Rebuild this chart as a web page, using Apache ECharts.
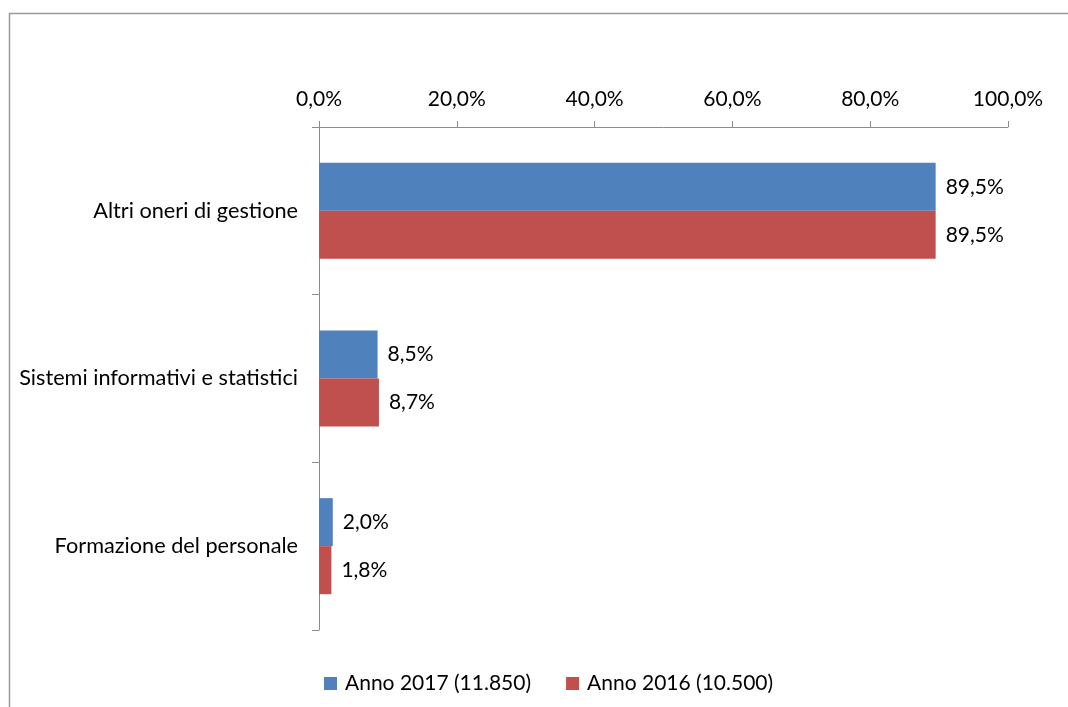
<!DOCTYPE html>
<html>
<head>
<meta charset="utf-8">
<script src="https://cdn.jsdelivr.net/npm/echarts@6/dist/echarts.min.js"></script>
<style>
  html, body { margin: 0; padding: 0; background: #fff; }
  #chart { width: 1068px; height: 707px; }
</style>
</head>
<body>
<div id="chart"></div>
<script>
// Categories, top to bottom
const categories = ['Altri oneri di gestione', 'Sistemi informativi e statistici', 'Formazione del personale'];
// Share of total (%) per year
const values2017 = [89.5, 8.5, 2.0];
const values2016 = [89.5, 8.7, 1.8];
const seriesNames = ['Anno 2017 (11.850)', 'Anno 2016 (10.500)'];

const FONT = 'Lato';
const FS = 21;
const fmtPct = v => v.toFixed(1).replace('.', ',') + '%';

const chart = echarts.init(document.getElementById('chart'));
chart.setOption({
  animation: false,
  textStyle: { fontFamily: FONT },
  graphic: [{
    type: 'rect',
    shape: { x: 9.5, y: 13.5, width: 1200, height: 900 },
    style: { fill: 'none', stroke: '#9a9a9a', lineWidth: 1.5 },
    silent: true
  }],
  grid: { left: 319, right: 60, top: 127, bottom: 77, containLabel: false },
  legend: {
    left: 324,
    top: 673,
    padding: 0,
    itemWidth: 13,
    itemHeight: 13,
    itemGap: 35,
    icon: 'rect',
    textStyle: { fontSize: FS, color: '#000', fontFamily: FONT, padding: [0, 0, 0, 3] },
    data: seriesNames
  },
  xAxis: {
    type: 'value',
    position: 'top',
    min: 0,
    max: 100,
    interval: 20,
    axisLine: { show: true, lineStyle: { color: '#8c8c8c' } },
    axisTick: { show: true, length: 6, lineStyle: { color: '#8c8c8c' } },
    splitLine: { show: false },
    axisLabel: { formatter: v => fmtPct(v), fontSize: FS, color: '#000', margin: 17 }
  },
  yAxis: {
    type: 'category',
    inverse: true,
    data: categories,
    axisLine: { show: true, lineStyle: { color: '#8c8c8c' } },
    axisTick: { show: true, length: 7, lineStyle: { color: '#8c8c8c' } },
    axisLabel: { fontSize: 21.7, color: '#000', margin: 21 }
  },
  series: [
    {
      name: seriesNames[0],
      type: 'bar',
      data: values2017,
      barGap: '0%',
      barCategoryGap: '42.7%',
      itemStyle: { color: '#4F81BD' },
      label: { show: true, position: 'right', distance: 10, formatter: p => fmtPct(p.value), fontSize: FS, color: '#000' }
    },
    {
      name: seriesNames[1],
      type: 'bar',
      data: values2016,
      barGap: '0%',
      barCategoryGap: '42.7%',
      itemStyle: { color: '#C0504D' },
      label: { show: true, position: 'right', distance: 10, formatter: p => fmtPct(p.value), fontSize: FS, color: '#000' }
    }
  ]
});
</script>
</body>
</html>
